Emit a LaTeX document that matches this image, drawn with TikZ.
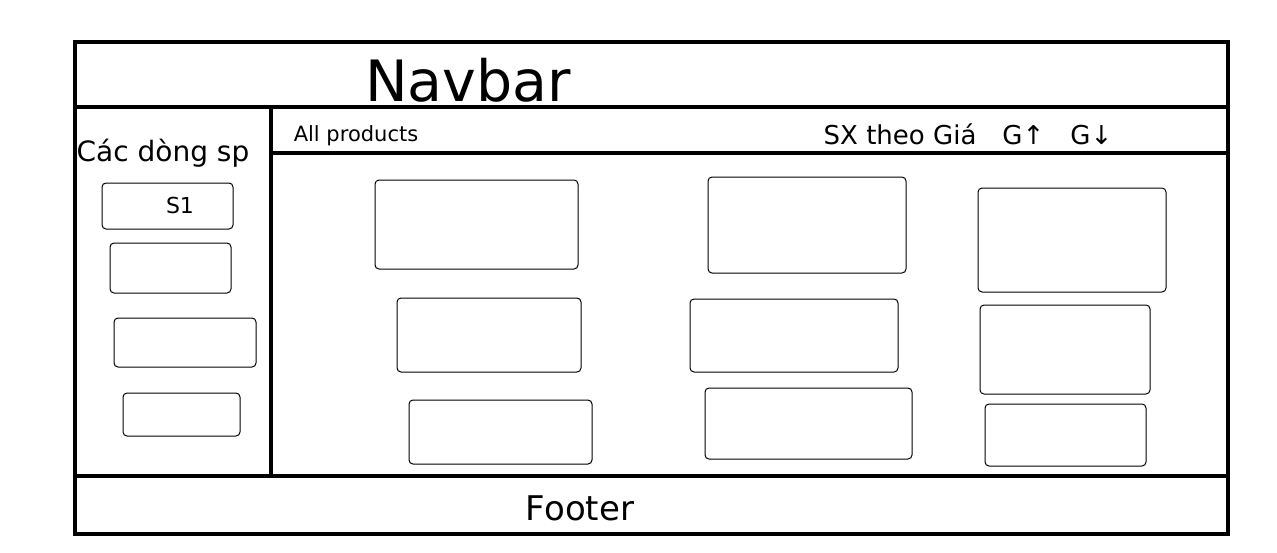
\documentclass[tikz,border=0pt]{standalone}
\usepackage{fontspec}
\setmainfont{DejaVu Sans}
\begin{document}
\begin{tikzpicture}[x=1pt,y=-1pt,
  frame/.style={line width=4pt},
  box/.style={draw,line width=1pt,rounded corners=4pt,inner sep=0pt},
  lbl/.style={inner sep=0pt,anchor=center}]
\useasboundingbox[fill=white] (0,0) rectangle (1277,552);
% outer frame and dividers
\draw[frame] (75,42) rectangle (1228,534);
\coordinate (nl) at (75,107); \coordinate (nr) at (1228,107);
\draw[frame] (nl) -- (nr);
\coordinate (fl) at (75,476); \coordinate (fr) at (1228,476);
\draw[frame] (fl) -- (fr);
\coordinate (st) at (271,107); \coordinate (sb) at (271,478);
\draw[frame] (st) -- (sb);
\coordinate (hl) at (271,153); \coordinate (hr) at (1228,153);
\draw[frame] (hl) -- (hr);
% texts
\node[lbl] (navbar) at (468,80) {\fontsize{57}{62}\selectfont Navbar};
\node[lbl] (cat) at (163,153) {\fontsize{28}{32}\selectfont Các dòng sp};
\node[lbl] (allp) at (356,136) {\fontsize{21}{24}\selectfont All products};
\node[lbl] (sort) at (968,134) {\fontsize{26}{30}\selectfont SX theo Giá\quad G↑\quad G↓};
\node[lbl] (footer) at (580,508) {\fontsize{34}{38}\selectfont Footer};
% sidebar boxes
\node[box,minimum width=131pt,minimum height=46pt] (s1) at (167.5,206) {};
\node[lbl] (s1t) at (180,205) {\fontsize{22}{26}\selectfont S1};
\node[box,minimum width=121pt,minimum height=50pt] (s2) at (170.5,268) {};
\node[box,minimum width=142pt,minimum height=49pt] (s3) at (185,342.5) {};
\node[box,minimum width=117pt,minimum height=43pt] (s4) at (181.5,414.5) {};
% product grid
\node[box,minimum width=203pt,minimum height=89pt] (p11) at (476.5,224.5) {};
\node[box,minimum width=198pt,minimum height=96pt] (p12) at (807,225) {};
\node[box,minimum width=188pt,minimum height=104pt] (p13) at (1072,240) {};
\node[box,minimum width=184pt,minimum height=74pt] (p21) at (489,335) {};
\node[box,minimum width=208pt,minimum height=73pt] (p22) at (794,335.5) {};
\node[box,minimum width=170pt,minimum height=89pt] (p23) at (1065,349.5) {};
\node[box,minimum width=183pt,minimum height=64pt] (p31) at (500.5,432) {};
\node[box,minimum width=207pt,minimum height=71pt] (p32) at (808.5,423.5) {};
\node[box,minimum width=161pt,minimum height=62pt] (p33) at (1065.5,435) {};
\end{tikzpicture}
\end{document}
